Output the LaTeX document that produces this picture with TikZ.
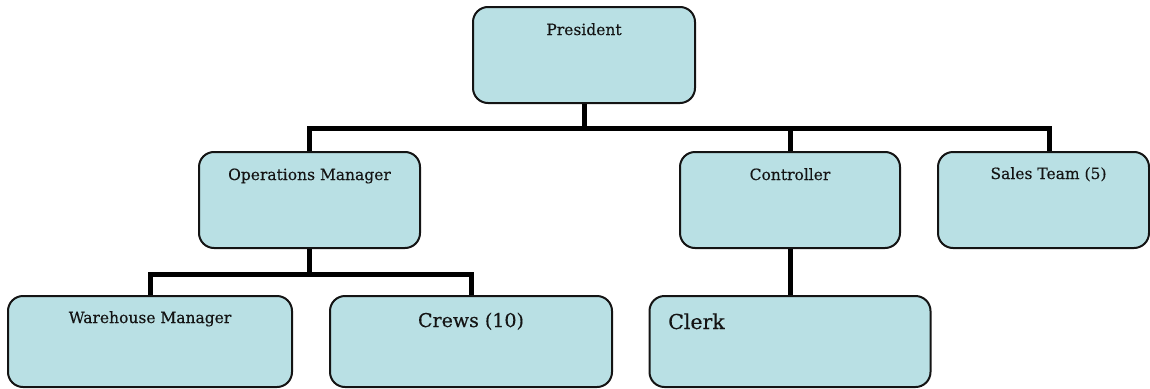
\documentclass[tikz,border=0pt]{standalone}
\usepackage{fontspec}
\setmainfont{DejaVu Serif}
\newfontfamily\boxfont[FakeBold=0.35]{DejaVu Serif}
\usetikzlibrary{calc}
\definecolor{boxfill}{RGB}{185,224,228}
\definecolor{ink}{RGB}{20,20,20}
\tikzset{
  main/.style={draw=ink, line width=2pt, fill=boxfill, rounded corners=15pt,
    minimum height=96pt, inner sep=0pt},
  lbl/.style={text=ink, anchor=base, inner sep=0pt, font=\boxfont\fontsize{15.5}{18}\selectfont},
  biglbl/.style={lbl, font=\boxfont\fontsize{19}{22}\selectfont},
  conn/.style={draw=black, line width=5pt}
}
\begin{document}
\begin{tikzpicture}[x=1pt,y=-1pt]
  \useasboundingbox (0,0) rectangle (1150,388);

  % boxes
  \node[main, minimum width=222pt] at (584,55) (pres) {};
  \node[main, minimum width=221pt] at (309.5,200) (ops) {};
  \node[main, minimum width=220pt] at (790,200) (ctrl) {};
  \node[main, minimum width=211pt] at (1043.5,200) (sales) {};
  \node[main, minimum width=284pt, minimum height=91pt] at (150,341.5) (wh) {};
  \node[main, minimum width=282pt, minimum height=91pt] at (471,341.5) (crews) {};
  \node[main, minimum width=281pt, minimum height=91pt] at (790,341.5) (clerk) {};

  % texts
  \node[lbl] at (584,35) (presT) {President};
  \node[lbl] at (309.5,180) (opsT) {Operations Manager};
  \node[lbl] at (790,180) (ctrlT) {Controller};
  \node[lbl] at (1048.5,179) (salesT) {Sales Team (5)};
  \node[lbl] at (150,323) (whT) {Warehouse Manager};
  \node[biglbl] at (471,327) (crewsT) {Crews (10)};
  \node[biglbl, font=\boxfont\fontsize{20.5}{24}\selectfont, anchor=base west] at (668,329) (clerkT) {Clerk};

  % connectors
  \draw[conn] (pres.south) -- ++(0,24) coordinate (hub);
  \draw[conn] (ops.north) |- (hub) -| ([xshift=5.5pt]sales.north);
  \draw[conn] (ctrl.north) -- (ctrl.north |- hub);
  \draw[conn] (ops.south) -- ++(0,25) coordinate (ohub);
  \draw[conn] (wh.north) |- (ohub) -| (crews.north);
  \draw[conn] (ctrl.south) -- (clerk.north);
\end{tikzpicture}
\end{document}
